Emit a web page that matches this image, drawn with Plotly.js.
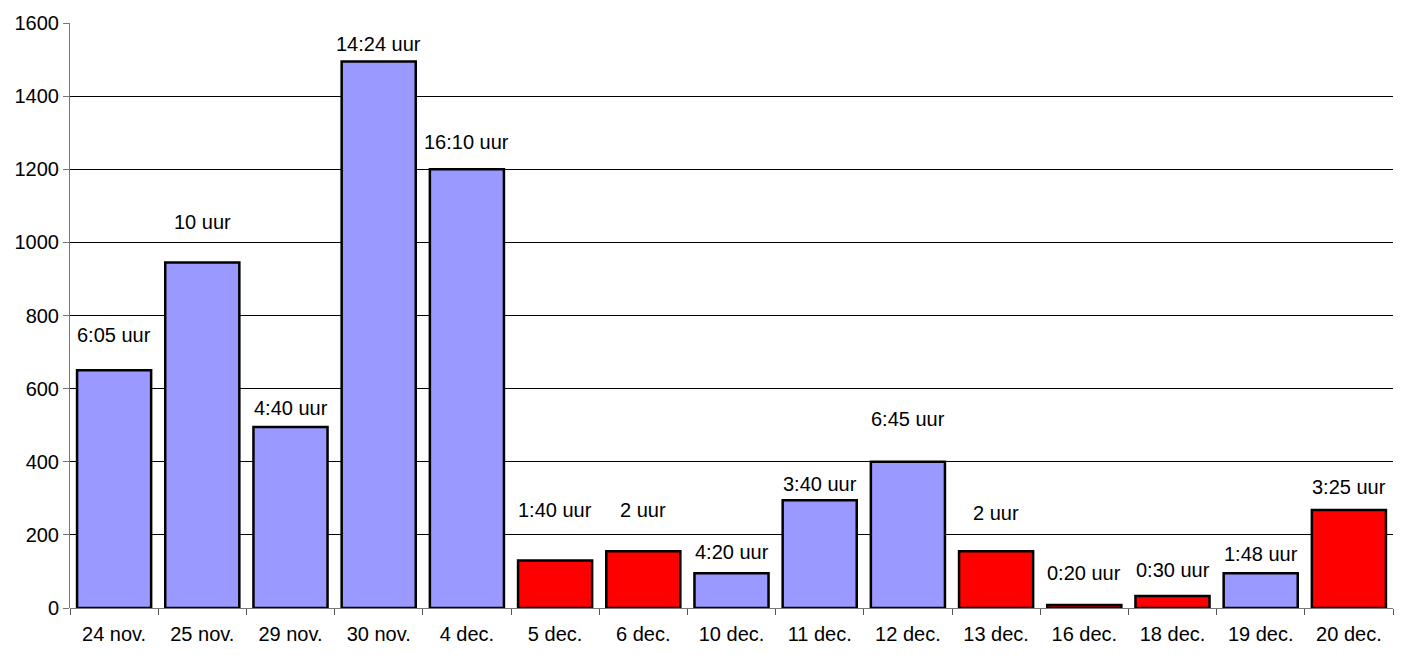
<!DOCTYPE html>
<html>
<head>
<meta charset="utf-8">
<script src="https://cdn.plot.ly/plotly-3.0.1.min.js"></script>
<style>html,body{margin:0;padding:0;background:#fff}#chart{width:1401px;height:655px}</style>
</head>
<body>
<div id="chart"></div>
<script>
const categories = ['24 nov.','25 nov.','29 nov.','30 nov.','4 dec.','5 dec.','6 dec.','10 dec.','11 dec.','12 dec.','13 dec.','16 dec.','18 dec.','19 dec.','20 dec.'];
const values = [650, 945, 495, 1495, 1200, 130, 155, 95, 295, 400, 155, 8, 33, 95, 268];
const durations = ['6:05 uur','10 uur','4:40 uur','14:24 uur','16:10 uur','1:40 uur','2 uur','4:20 uur','3:40 uur','6:45 uur','2 uur','0:20 uur','0:30 uur','1:48 uur','3:25 uur'];
const kind = ['a','a','a','a','a','b','b','a','a','a','b','b','b','a','b'];
const yTicks = [0,200,400,600,800,1000,1200,1400,1600];

// styling (pixel offsets of labels above bar tops)
const labelLift = [35,40,19,17,27,50,41,21,16,43,38,32,26,19,23];
const colorOf = {a:'#9999FF', b:'#FF0000'};

const trace = {
  type:'bar', x:categories, y:values,
  marker:{color:kind.map(k=>colorOf[k]), line:{color:'#000', width:2.5}},
  hoverinfo:'x+y'
};
const annotations = categories.map((c,i)=>({
  x:c, y:values[i], xref:'x', yref:'y', text:durations[i], showarrow:false,
  yanchor:'middle', yshift:labelLift[i],
  font:{family:'Liberation Sans, Arial, sans-serif', size:20, color:'#000'}
}));
const layout = {
  width:1401, height:655,
  margin:{l:70, r:8, t:23, b:47},
  paper_bgcolor:'#fff', plot_bgcolor:'#fff',
  bargap:0.16,
  showlegend:false,
  font:{family:'Liberation Sans, Arial, sans-serif', size:20, color:'#000'},
  xaxis:{type:'category', showgrid:false, showline:false, zeroline:false,
    ticks:'outside', ticklen:6, tickcolor:'#555', tickson:'boundaries',
    ticklabelstandoff:12,
    tickfont:{size:20}, automargin:false},
  yaxis:{range:[0,1600], tickvals:yTicks, ticktext:yTicks.map(String),
    showgrid:true, gridcolor:'#000', gridwidth:1,
    showline:true, linecolor:'#777', linewidth:1,
    zeroline:true, zerolinecolor:'#777', zerolinewidth:1,
    ticks:'outside', ticklen:6, tickcolor:'#777', tickfont:{size:20}, automargin:false},
  annotations:annotations
};
Plotly.newPlot('chart',[trace],layout,{displayModeBar:false,staticPlot:true});
</script>
</body>
</html>
